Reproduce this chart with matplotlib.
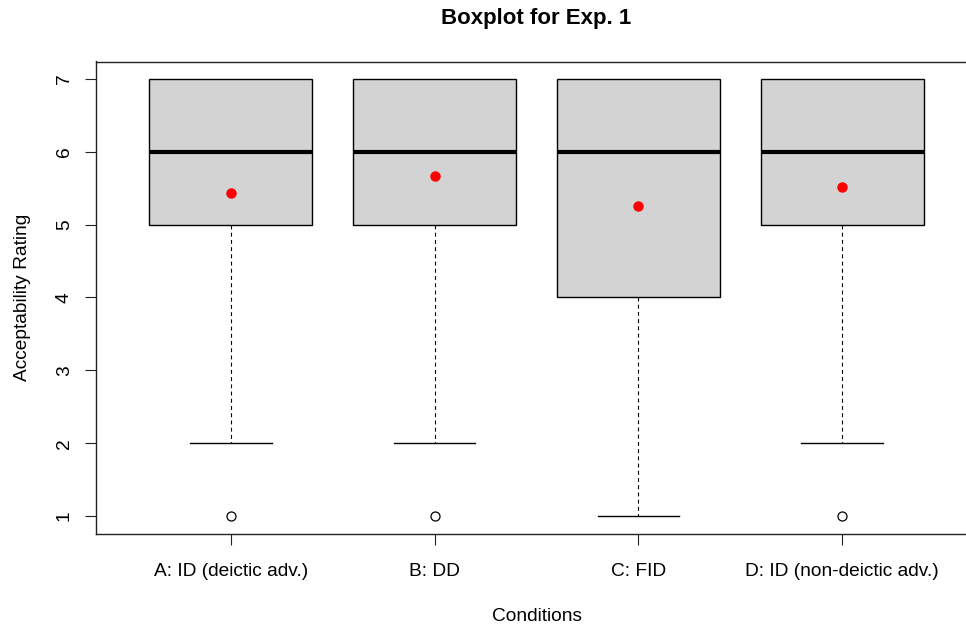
import matplotlib
matplotlib.use("Agg")
import matplotlib.pyplot as plt

plt.rcParams['font.family'] = ['Liberation Sans', 'DejaVu Sans']

conditions = ['A: ID (deictic adv.)', 'B: DD', 'C: FID', 'D: ID (non-deictic adv.)']
whislo = [2, 2, 1, 2]
q1 = [5, 5, 4, 5]
med = [6, 6, 6, 6]
q3 = [7, 7, 7, 7]
whishi = [7, 7, 7, 7]
fliers = [[1], [1], [], [1]]
means = [5.44, 5.67, 5.26, 5.52]

stats = []
for i in range(len(conditions)):
    stats.append(dict(label=conditions[i], whislo=whislo[i], q1=q1[i], med=med[i],
                      q3=q3[i], whishi=whishi[i], fliers=fliers[i]))

fig = plt.figure(figsize=(9.66, 6.25), dpi=100)
ax = fig.add_axes([0.0998, 0.1464, 0.9112, 0.7552])

pos = range(1, len(conditions) + 1)
bp = ax.bxp(stats, positions=pos, widths=0.8, patch_artist=True, showfliers=True,
            boxprops=dict(facecolor='#d3d3d3', edgecolor='black', linewidth=1),
            medianprops=dict(color='black', linewidth=3, solid_capstyle='butt'),
            whiskerprops=dict(color='black', linewidth=0.8, linestyle=(0, (3.5, 3))),
            capprops=dict(color='black', linewidth=1),
            capwidths=0.4,
            flierprops=dict(marker='o', markerfacecolor='white', markeredgecolor='black',
                            markersize=6.5, markeredgewidth=0.9, linestyle='none'))
# upper caps sit under the box edge when whisker == q3
for i in range(len(conditions)):
    if whishi[i] == q3[i]:
        bp['caps'][2 * i + 1].set_visible(False)
ax.plot(list(pos), means, 'o', color='red', markersize=6.5, zorder=5)

ax.set_xlim(0.34, 4.66)
ax.set_ylim(0.76, 7.24)
ax.set_yticks([1, 2, 3, 4, 5, 6, 7])
ax.set_xticks(list(pos))
ax.set_xticklabels(conditions)
for lab in ax.get_yticklabels():
    lab.set_rotation(90)
    lab.set_va('center')
ax.tick_params(axis='both', labelsize=13.8, length=8, width=0.8, color='#222222')
ax.tick_params(axis='x', pad=13.5)
ax.tick_params(axis='y', pad=9)
for s in ax.spines.values():
    s.set_linewidth(1)
    s.set_color('#222222')

ax.set_xlabel('Conditions', fontsize=13.8, labelpad=20)
ax.set_ylabel('Acceptability Rating', fontsize=13.8, labelpad=18)
fig.text(0.555, 0.971, 'Boxplot for Exp. 1', fontsize=16, fontweight='bold',
         ha='center', va='center')

fig.savefig('out.png', dpi=100)
